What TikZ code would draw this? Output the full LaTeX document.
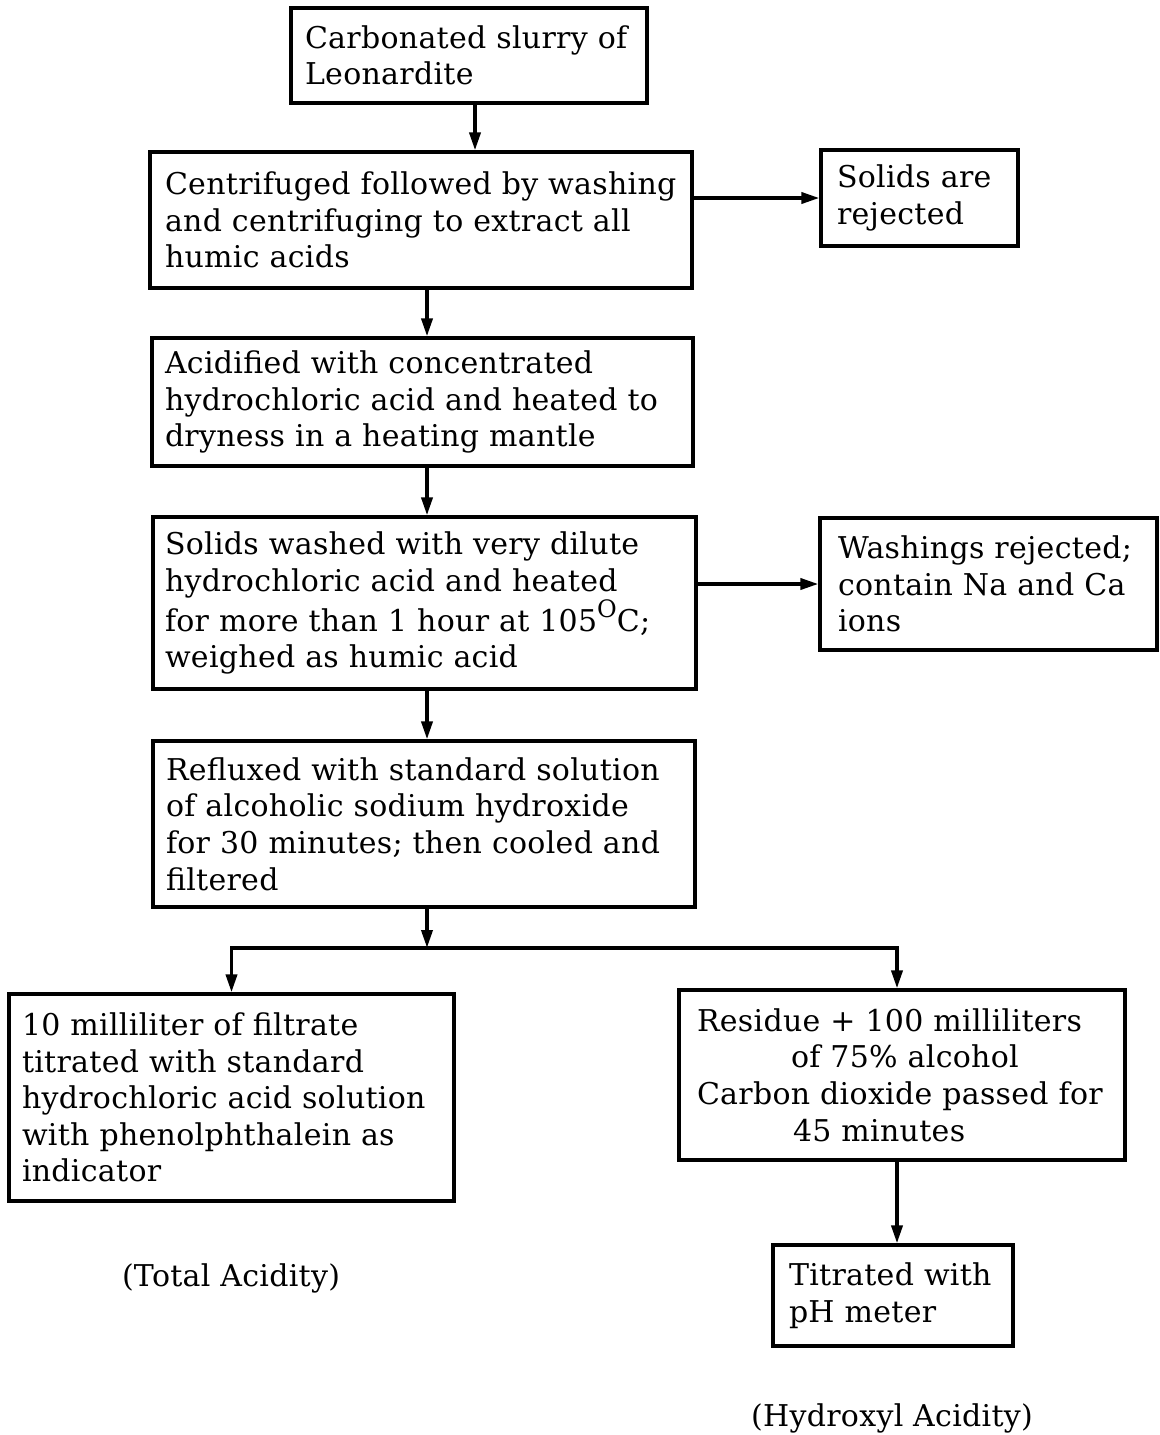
\documentclass[tikz,border=0pt]{standalone}
\usepackage{fontspec}
\setmainfont[LetterSpace=1]{DejaVu Serif}
\usetikzlibrary{arrows.meta}
\begin{document}
\begin{tikzpicture}[x=0.5pt,y=-0.5pt,
  box/.style={draw, line width=1.6pt, align=left, inner ysep=0pt,
    font=\fontsize{15}{18.3}\selectfont},
  conn/.style={line width=1.8pt},
  arr/.style={conn, -{Triangle[length=9pt,width=5.5pt]}},
  lbl/.style={font=\fontsize{15}{18.3}\selectfont}]
\fill[white] (0,0) rectangle (1160,1435);
\useasboundingbox (0,0) rectangle (1160,1435);

\node[box, minimum width=178pt, minimum height=47.5pt, inner xsep=7pt, text width=164pt] (b1) at (469,55.5)
  {\mbox{Carbonated slurry of}\\Leonardite};
\node[box, minimum width=271pt, minimum height=68pt, inner xsep=7.5pt, text width=256pt] (b2) at (421,220)
  {\mbox{Centrifuged followed by washing}\\and centrifuging to extract all\\humic acids};
\node[box, minimum width=98.5pt, minimum height=48pt, inner xsep=8pt, text width=82.5pt] (b3) at (919.5,198)
  {Solids are\\rejected};
\node[box, minimum width=270.5pt, minimum height=64pt, inner xsep=6.5pt, text width=257.5pt] (b4) at (422.5,402)
  {Acidified with concentrated\\\mbox{hydrochloric acid and heated to}\\dryness in a heating mantle};
\node[box, minimum width=271.5pt, minimum height=86pt, inner xsep=6pt, text width=259.5pt] (b5) at (424.5,603)
  {Solids washed with very dilute\\hydrochloric acid and heated\\\mbox{for more than 1 hour at 105\raisebox{0.45em}{\fontsize{12}{12}\selectfont O}C;}\\weighed as humic acid};
\node[box, minimum width=168.5pt, minimum height=66pt, inner xsep=9pt, text width=150.5pt] (b6) at (988.5,584)
  {\mbox{Washings rejected;}\\contain Na and Ca\\ions};
\node[box, minimum width=271pt, minimum height=83pt, inner xsep=6.5pt, text width=258pt] (b7) at (424,824)
  {\mbox{Refluxed with standard solution}\\of alcoholic sodium hydroxide\\\mbox{for 30 minutes; then cooled and}\\filtered};
\node[box, minimum width=222.5pt, minimum height=103.5pt, inner xsep=6.5pt, text width=209.5pt] (b8) at (231.5,1097.5)
  {10 milliliter of filtrate\\titrated with standard\\\mbox{hydrochloric acid solution}\\with phenolphthalein as\\indicator};
\node[box, minimum width=223pt, minimum height=85pt, inner xsep=9pt, text width=205pt] (b9) at (902,1075)
  {Residue + 100 milliliters\\\hspace*{47pt}of 75\% alcohol\\\mbox{Carbon dioxide passed for}\\\hspace*{48pt}45 minutes};
\node[box, minimum width=120pt, minimum height=50.5pt, inner xsep=8pt, text width=104pt] (b10) at (893,1295.5)
  {\mbox{Titrated with}\\pH meter};

\node[lbl] (ta) at (231,1278) {(Total Acidity)};
\node[lbl] (ha) at (892,1418) {(Hydroxyl Acidity)};

\draw[arr] ([xshift=3pt]b1.south) -- ([xshift=3pt]b1.south |- b2.north);
\draw[arr] ([xshift=3pt]b2.south) -- ([xshift=3pt]b2.south |- b4.north);
\draw[arr] ([xshift=2.25pt]b4.south) -- ([xshift=2.25pt]b4.south |- b5.north);
\draw[arr] ([xshift=1.25pt]b5.south) -- ([xshift=1.25pt]b5.south |- b7.north);
\draw[arr] (b2.east |- b3.west) -- (b3.west);
\draw[arr] (b5.east |- b6.west) -- (b6.west);
\coordinate (j) at (427,948);
\draw[arr] ([xshift=1.5pt]b7.south) -- (j);
\draw[arr] (j) -| (b8.north);
\draw[arr] (j) -| ([xshift=-2.5pt]b9.north);
\draw[arr] ([xshift=-2.5pt]b9.south) -- ([xshift=-2.5pt]b9.south |- b10.north);
\end{tikzpicture}
\end{document}
